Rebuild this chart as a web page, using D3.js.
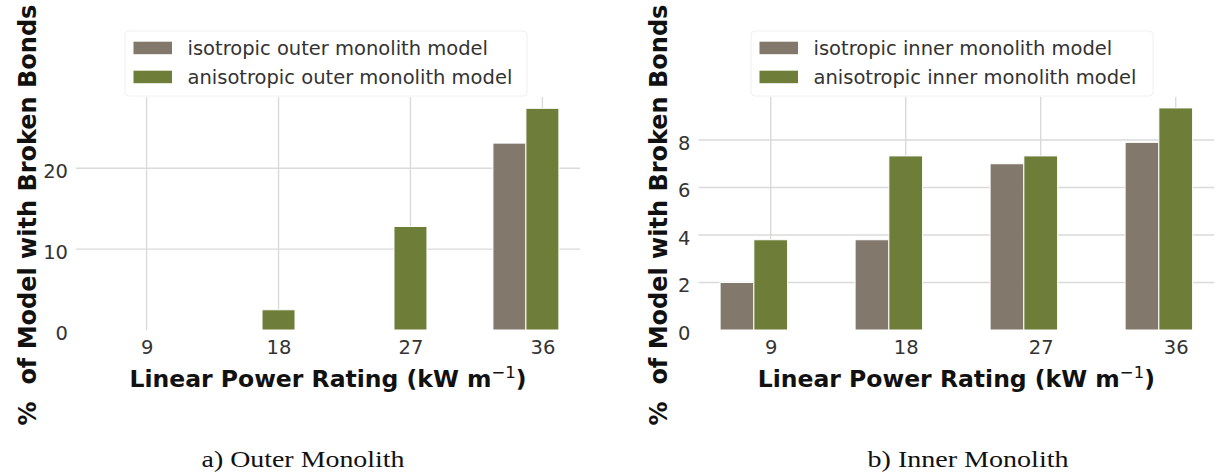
<!DOCTYPE html>
<html>
<head>
<meta charset="utf-8">
<script src="https://cdn.jsdelivr.net/npm/d3@7"></script>
<style>
  html, body { margin: 0; padding: 0; background: #ffffff; }
  svg { display: block; }
</style>
</head>
<body>
<svg id="chart" width="1222" height="476"></svg>
<script>
// Linear power ratings (kW m^-1) shared by both panels
const categories = ["9", "18", "27", "36"];

// Percentage of the outer monolith model with broken bonds
const outerIsotropic = [0, 0, 0.1, 23.1];
const outerAnisotropic = [0, 2.5, 12.8, 27.4];

// Percentage of the inner monolith model with broken bonds
const innerIsotropic = [2.0, 3.8, 7.0, 7.9];
const innerAnisotropic = [3.8, 7.33, 7.33, 9.35];

// Y tick values for each panel
const outerTicks = [0, 10, 20];
const innerTicks = [0, 2, 4, 6, 8];

const seriesColors = ["#82796c", "#6e7d37"];

const svg = d3.select("#chart");

const panels = [
  {
    iso: outerIsotropic, aniso: outerAnisotropic, ticks: outerTicks,
    yMax: 28.8, left: 76, right: 580,
    legend: ["isotropic outer monolith model", "anisotropic outer monolith model"],
    legendX: 125, yLabelX: 36,
    caption: "a) Outer Monolith", captionX: 303, captionW: 203
  },
  {
    iso: innerIsotropic, aniso: innerAnisotropic, ticks: innerTicks,
    yMax: 9.81, left: 698.5, right: 1214.2,
    legend: ["isotropic inner monolith model", "anisotropic inner monolith model"],
    legendX: 751, yLabelX: 667,
    caption: "b) Inner Monolith", captionX: 968, captionW: 201
  }
];

const plotTop = 97, plotBottom = 330;
const barSlot = 0.25;   // bar width in category units

panels.forEach(p => {
  const x = d3.scaleLinear().domain([-0.535, 3.285]).range([p.left, p.right]);
  const y = d3.scaleLinear().domain([0, p.yMax]).range([plotBottom, plotTop]);
  const g = svg.append("g");

  // horizontal grid
  g.append("g")
    .selectAll("line")
    .data(p.ticks.filter(t => t > 0))
    .join("line")
    .attr("x1", p.left).attr("x2", p.right)
    .attr("y1", d => y(d)).attr("y2", d => y(d))
    .attr("stroke", "#dadada").attr("stroke-width", 1.4);

  // vertical grid at category positions
  g.append("g")
    .selectAll("line")
    .data(categories.map((c, i) => i))
    .join("line")
    .attr("x1", d => x(d)).attr("x2", d => x(d))
    .attr("y1", plotTop).attr("y2", plotBottom)
    .attr("stroke", "#dadada").attr("stroke-width", 1.4);

  // bars
  const series = [p.iso, p.aniso];
  series.forEach((vals, s) => {
    g.append("g")
      .selectAll("rect")
      .data(vals)
      .join("rect")
      .attr("x", (d, i) => x(i + (s - 1) * barSlot - barSlot / 2))
      .attr("width", x(barSlot) - x(0))
      .attr("y", d => y(d))
      .attr("height", d => y(0) - y(d))
      .attr("fill", seriesColors[s])
      .attr("stroke", "#ffffff")
      .attr("stroke-width", 1);
  });

  // y tick labels
  const yAxis = g.append("g")
    .attr("transform", `translate(${p.left},0)`)
    .call(d3.axisLeft(y).tickValues(p.ticks).tickSize(0).tickPadding(8).tickFormat(d3.format("d")));
  yAxis.select(".domain").remove();
  yAxis.selectAll("text")
    .attr("dy", "0.48em")
    .attr("font-family", "DejaVu Sans, sans-serif")
    .attr("font-size", 19.5)
    .attr("fill", "#333333");

  // x tick labels
  const xAxis = g.append("g")
    .attr("transform", `translate(0,${plotBottom})`)
    .call(d3.axisBottom(x).tickValues(categories.map((c, i) => i)).tickSize(0).tickPadding(10)
      .tickFormat(i => categories[i]));
  xAxis.select(".domain").remove();
  xAxis.selectAll("text")
    .attr("font-family", "DejaVu Sans, sans-serif")
    .attr("font-size", 19.5)
    .attr("fill", "#333333");

  // axis titles
  const xTitle = g.append("text")
    .attr("x", (p.left + p.right) / 2)
    .attr("y", 387)
    .attr("text-anchor", "middle")
    .attr("font-family", "DejaVu Sans, sans-serif")
    .attr("font-weight", "bold")
    .attr("font-size", 23.5)
    .attr("fill", "#111111");
  xTitle.append("tspan").text("Linear Power Rating (kW m");
  xTitle.append("tspan").attr("font-size", 16.5).attr("font-weight", "normal").attr("dy", -9).text("\u22121");
  xTitle.append("tspan").attr("dy", 9).text(")");

  g.append("text")
    .attr("transform", `translate(${p.yLabelX},215) rotate(-90)`)
    .attr("text-anchor", "middle")
    .attr("font-family", "DejaVu Sans, sans-serif")
    .attr("font-weight", "bold")
    .attr("font-size", 24)
    .attr("fill", "#111111")
    .attr("xml:space", "preserve")
    .style("white-space", "pre")
    .text("%  of Model with Broken Bonds");

  // legend
  const lg = g.append("g").attr("transform", `translate(${p.legendX},31)`);
  lg.append("rect")
    .attr("width", 402).attr("height", 65).attr("rx", 4)
    .attr("fill", "#ffffff").attr("stroke", "#f0f0f0").attr("stroke-width", 1);
  p.legend.forEach((label, s) => {
    lg.append("rect")
      .attr("x", 8.5).attr("y", 10.7 + s * 29)
      .attr("width", 38.5).attr("height", 12.5)
      .attr("fill", seriesColors[s]);
    lg.append("text")
      .attr("x", 62.5).attr("y", 24 + s * 29)
      .attr("font-family", "DejaVu Sans, sans-serif")
      .attr("font-size", 19.5)
      .attr("fill", "#333333")
      .text(label);
  });

  // panel caption
  svg.append("text")
    .attr("x", p.captionX - p.captionW / 2)
    .attr("y", 467)
    .attr("textLength", p.captionW)
    .attr("lengthAdjust", "spacingAndGlyphs")
    .attr("font-family", "'Palatino Linotype', Palatino, 'URW Palladio L', 'Liberation Serif', serif")
    .attr("font-size", 24)
    .attr("fill", "#111111")
    .text(p.caption);
});
</script>
</body>
</html>
